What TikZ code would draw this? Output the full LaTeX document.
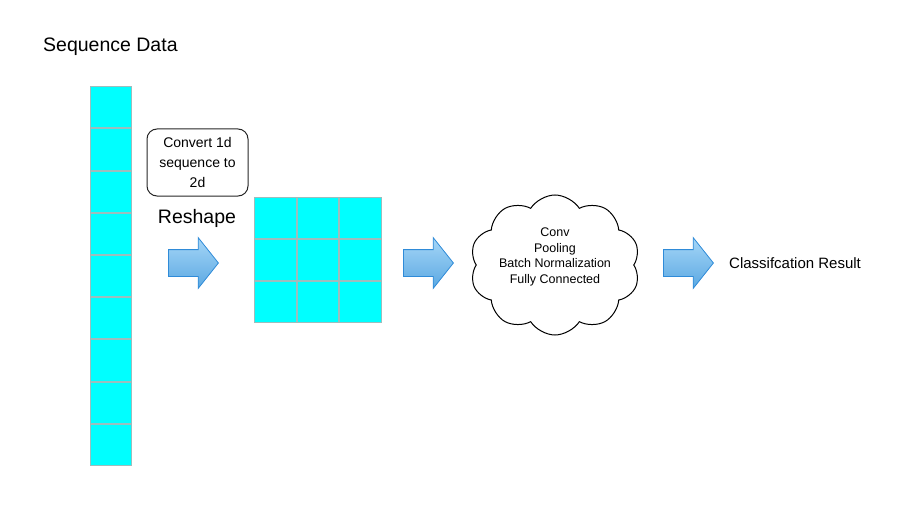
\documentclass[tikz,border=0pt]{standalone}
\usepackage{fontspec}
\setmainfont{Liberation Sans}
\usetikzlibrary{matrix,shapes.arrows,shapes.symbols,positioning}

\definecolor{cellcyan}{HTML}{00FFFF}
\definecolor{cellline}{HTML}{9DBDBD}
\definecolor{arrowtop}{HTML}{A6D6F7}
\definecolor{arrowbot}{HTML}{5AA8E2}
\definecolor{arrowline}{HTML}{2F8BD8}

\begin{document}
\begin{tikzpicture}[x=1pt,y=1pt,
  cell/.style={draw=cellline, line width=1pt, fill=cellcyan, inner sep=0pt, outer sep=0pt},
  blockarrow/.style={single arrow, draw=arrowline, line width=0.8pt,
    top color=arrowtop, bottom color=arrowbot,
    inner xsep=0pt, inner ysep=13pt,
    minimum height=50pt, minimum width=0pt,
    single arrow head extend=12pt, single arrow tip angle=103, anchor=tail}
]
  \useasboundingbox (0,0) rectangle (902,-508);

  {\node[anchor=west, inner sep=0pt, font=\fontsize{19.5}{22}\selectfont] (title) at (43,-47) {Sequence Data};};

  \matrix [%
    matrix of nodes,
    nodes={cell, minimum width=41pt, minimum height=41.2pt},
    column sep=0pt,
    row sep=0pt,
    inner sep=0pt
  ] (seq) at (111,-276) {%
  {}\\ {}\\ {}\\ {}\\ {}\\ {}\\ {}\\ {}\\ {}\\
  };

  \node[draw=black!85, line width=1pt, rounded corners=10pt,
        minimum width=101pt, minimum height=67pt, align=center,
        font=\fontsize{14}{20}\selectfont] (convert) at (197.5,-162.5)
        {Convert 1d\\sequence to\\2d};
  {\node[font=\fontsize{19.5}{22}\selectfont] (reshape) at (197,-218) {Reshape};};

  \node[blockarrow] (arrow1) at (168,-263) {};

  \matrix [%
    matrix of nodes,
    nodes={cell, minimum width=41.7pt, minimum height=41pt},
    column sep=0pt,
    row sep=0pt,
    inner sep=0pt
  ] (grid) at (318,-260) {%
  {} & {} & {} \\
  {} & {} & {} \\
  {} & {} & {} \\
  };

  \node[blockarrow] (arrow2) at (403,-263) {};

  \node[cloud, draw, line width=1pt, cloud puffs=10, cloud puff arc=115,
        aspect=1.2, minimum width=170pt, minimum height=140pt] (cnn) at (555,-265) {};
  {\node[align=center, font=\fontsize{12.5}{15.5}\selectfont] (cnnlabel) at (555,-257)
        {Conv\\Pooling\\Batch Normalization\\Fully Connected};};

  \node[blockarrow] (arrow3) at (663,-263) {};

  {\node[anchor=west, inner sep=0pt, font=\fontsize{15}{18}\selectfont] (result) at (729,-263) {Classifcation Result};};
\end{tikzpicture}
\end{document}
